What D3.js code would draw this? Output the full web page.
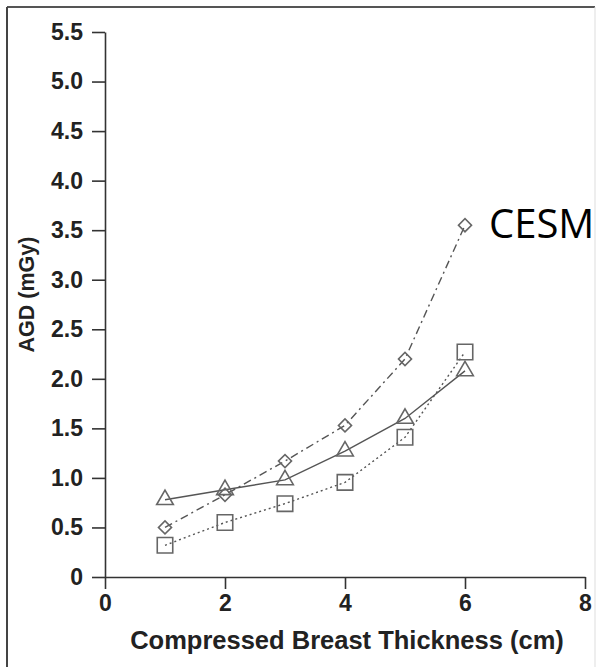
<!DOCTYPE html>
<html>
<head>
<meta charset="utf-8">
<script src="https://cdn.jsdelivr.net/npm/d3@7"></script>
<style>
  html, body { margin: 0; padding: 0; background: #fff; }
  svg { display: block; }
</style>
</head>
<body>
<svg id="chart" width="597" height="667"></svg>
<script>
// ---- data ----
const thickness = [1, 2, 3, 4, 5, 6];
const triangleSeries = [0.78, 0.88, 0.98, 1.27, 1.60, 2.08];   // solid line
const diamondSeries  = [0.50, 0.83, 1.17, 1.53, 2.20, 3.55];   // dash-dot line (CESM)
const squareSeries   = [0.32, 0.55, 0.74, 0.955, 1.41, 2.27];  // dotted line
const yTicks = [0, 0.5, 1.0, 1.5, 2.0, 2.5, 3.0, 3.5, 4.0, 4.5, 5.0, 5.5];
const yTickLabels = ["0", "0.5", "1.0", "1.5", "2.0", "2.5", "3.0", "3.5", "4.0", "4.5", "5.0", "5.5"];
const xTicks = [0, 2, 4, 6, 8];
const xTickLabels = ["0", "2", "4", "6", "8"];
const xTitle = "Compressed Breast Thickness (cm)";
const yTitle = "AGD (mGy)";
const annotation = "CESM";

// ---- drawing ----
const svg = d3.select("#chart");
const x = d3.scaleLinear().domain([0, 8]).range([105, 585]);
const y = d3.scaleLinear().domain([0, 5.5]).range([577, 32]);

// frame
svg.append("line").attr("x1", 7).attr("y1", 7).attr("x2", 595).attr("y2", 7)
  .attr("stroke", "#555").attr("stroke-width", 2);
svg.append("line").attr("x1", 7).attr("y1", 7).attr("x2", 7).attr("y2", 667)
  .attr("stroke", "#444").attr("stroke-width", 2);
svg.append("line").attr("x1", 595).attr("y1", 7).attr("x2", 595).attr("y2", 667)
  .attr("stroke", "#ddd").attr("stroke-width", 1);

const tickFont = "'Liberation Sans', Arial, Helvetica, sans-serif";

// y axis
const yAxis = svg.append("g").attr("transform", `translate(${x(0)},0)`)
  .call(d3.axisLeft(y).tickValues(yTicks).tickSize(13).tickSizeOuter(0).tickPadding(9)
    .tickFormat((d, i) => yTickLabels[i]));
// x axis
const xAxis = svg.append("g").attr("transform", `translate(0,${y(0)})`)
  .call(d3.axisBottom(x).tickValues(xTicks).tickSize(12).tickSizeOuter(0).tickPadding(6)
    .tickFormat((d, i) => xTickLabels[i]));

[yAxis, xAxis].forEach(g => {
  g.select(".domain").attr("stroke", "#333").attr("stroke-width", 1.6);
  g.selectAll(".tick line").attr("stroke", "#333").attr("stroke-width", 1.6);
  g.selectAll(".tick text").attr("fill", "#222").style("font-family", tickFont)
    .style("font-weight", "bold").style("font-size", "23px");
});

// axis titles
svg.append("text").attr("x", (x(0) + x(8)) / 2 + 2).attr("y", 649)
  .attr("text-anchor", "middle").attr("fill", "#222")
  .style("font-family", tickFont).style("font-weight", "bold").style("font-size", "25.5px")
  .text(xTitle);
svg.append("text").attr("transform", `translate(34,${(y(0) + y(5.5)) / 2 - 10}) rotate(-90)`)
  .attr("text-anchor", "middle").attr("fill", "#222")
  .style("font-family", tickFont).style("font-weight", "bold").style("font-size", "21.5px")
  .text(yTitle);

// series
const series = [
  { values: squareSeries, dash: "2,3", symbol: d3.symbolSquare, size: 240, rot: 0 },
  { values: triangleSeries, dash: null, symbol: d3.symbolTriangle, size: 120, rot: 0 },
  { values: diamondSeries, dash: "8,4,2,4", symbol: d3.symbolSquare, size: 85, rot: 45 },
];
const line = d3.line().x((d, i) => x(thickness[i])).y(d => y(d));
series.forEach(s => {
  svg.append("path").datum(s.values).attr("d", line)
    .attr("fill", "none").attr("stroke", "#555").attr("stroke-width", 1.4)
    .attr("stroke-dasharray", s.dash);
});
series.forEach(s => {
  svg.append("g").selectAll("path").data(s.values).join("path")
    .attr("transform", (d, i) => `translate(${x(thickness[i])},${y(d)}) rotate(${s.rot})`)
    .attr("d", d3.symbol().type(s.symbol).size(s.size))
    .attr("fill", "none").attr("stroke", "#666").attr("stroke-width", 1.6);
});

// annotation
svg.append("text").attr("x", 489).attr("y", 238)
  .attr("fill", "#000").style("font-family", "'Open Sans', 'Noto Sans', sans-serif")
  .style("font-size", "40px").text(annotation);
</script>
</body>
</html>
